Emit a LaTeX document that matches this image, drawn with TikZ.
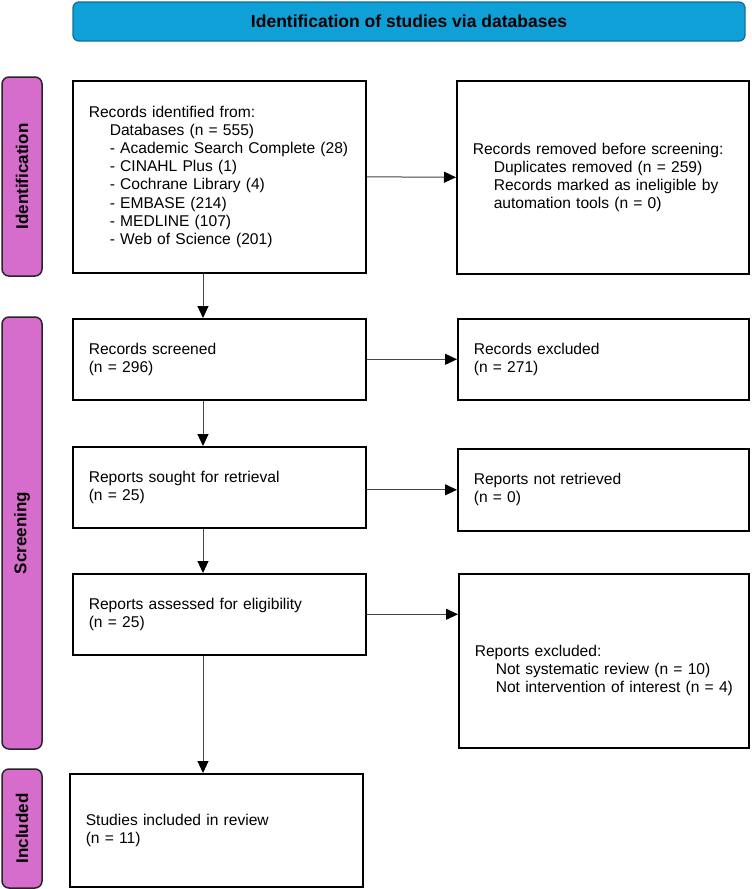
\documentclass[tikz,border=0pt]{standalone}
\usepackage{fontspec}
\setmainfont{Liberation Sans}
\usetikzlibrary{arrows.meta,calc}
\definecolor{bannerblue}{RGB}{16,160,216}
\definecolor{bannerline}{RGB}{20,110,150}
\definecolor{barpink}{RGB}{214,108,204}
\definecolor{arrowgrey}{RGB}{70,70,70}
\newcommand{\ind}[1]{\hspace*{21pt}\mbox{#1}}
\begin{document}
\begin{tikzpicture}[x=1pt,y=-1pt,
  box/.style={draw=black, line width=1.6pt, fill=white, anchor=north west,
    align=left, inner xsep=16pt, inner ysep=0pt,
    font=\fontsize{15.6}{18.2}\selectfont},
  sidebar/.style={draw=black!85, line width=1.5pt, fill=barpink, rounded corners=7pt,
    rotate=90, minimum height=40pt, inner sep=0pt,
    font=\fontsize{17}{20}\selectfont\bfseries},
  banner/.style={draw=bannerline, line width=1.3pt, fill=bannerblue, rounded corners=6pt,
    minimum width=672pt, minimum height=39pt, inner sep=0pt,
    font=\fontsize{17.5}{20}\selectfont\bfseries},
  arr/.style={draw=arrowgrey, line width=1pt,
    -{Triangle[length=12pt,width=11pt,color=black,fill=black]}}
]
\useasboundingbox (0,0) rectangle (752,889);
\fill[white] (0,0) rectangle (752,889);

\node[banner] (ban) at (409,21.5) {Identification of studies via databases};

\node[sidebar, minimum width=199pt] (idbar) at (22,176.5) {Identification};
\node[sidebar, minimum width=432pt] (scrbar) at (22,533) {Screening};
\node[sidebar, minimum width=119pt] (incbar) at (22,828.5) {Included};

\node[box, text width=261pt, minimum height=192pt] (b1) at (72,80)
 {\mbox{Records identified from:}\\
  \ind{Databases (n = 555)}\\
  \ind{- Academic Search Complete (28)}\\
  \ind{- CINAHL Plus (1)}\\
  \ind{- Cochrane Library (4)}\\
  \ind{- EMBASE (214)}\\
  \ind{- MEDLINE (107)}\\
  \ind{- Web of Science (201)}};

\node[box, text width=260pt, minimum height=193pt] (b2) at (456,80)
 {\mbox{Records removed before screening:}\\
  \ind{Duplicates removed (n = 259)}\\
  \ind{Records marked as ineligible by}\\
  \ind{automation tools (n = 0)}};

\node[box, text width=261pt, minimum height=81pt] (b3) at (72,318)
 {Records screened\\(n = 296)};
\node[box, text width=259pt, minimum height=81pt] (b4) at (457,318)
 {Records excluded\\(n = 271)};

\node[box, text width=261pt, minimum height=81pt] (b5) at (72,446)
 {Reports sought for retrieval\\(n = 25)};
\node[box, text width=259pt, minimum height=82pt] (b6) at (457,448)
 {Reports not retrieved\\(n = 0)};

\node[box, text width=261pt, minimum height=81pt] (b7) at (72,573)
 {Reports assessed for eligibility\\(n = 25)};
\node[box, text width=258pt, minimum height=174pt] (b8) at (458,573)
 {\rule{0pt}{31pt}Reports excluded:\\
  \ind{Not systematic review (n = 10)}\\
  \ind{Not intervention of interest (n = 4)}};

\node[box, text width=261pt, minimum height=113pt] (b9) at (69,773)
 {Studies included in review\\(n = 11)};

\coordinate (colx) at (203,0);

\draw[arr] (b1.east) -- (b2.west);
\draw[arr] (b3.east) -- (b4.west);
\draw[arr] (b5.east |- b6.west) -- (b6.west);
\draw[arr] (b7.east) -- (b7.east -| b8.west);

\draw[arr] (b1.south -| colx) -- (b3.north -| colx);
\draw[arr] (b3.south -| colx) -- (b5.north -| colx);
\draw[arr] (b5.south -| colx) -- (b7.north -| colx);
\draw[arr] (b7.south -| colx) -- (b9.north -| colx);
\end{tikzpicture}
\end{document}
